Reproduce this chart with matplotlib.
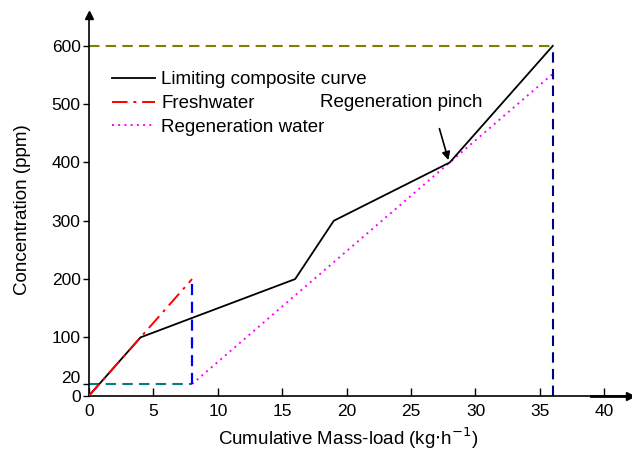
import numpy as np
import matplotlib.pyplot as plt
import matplotlib.transforms as mtransforms

plt.rcParams['font.family'] = ['Liberation Sans', 'DejaVu Sans']

# limiting composite curve
lcc_x = [0, 4, 16, 19, 28, 36]
lcc_y = [0, 100, 200, 300, 400, 600]

# freshwater supply line
fw_x = [0, 8]
fw_y = [0, 200]

# regeneration water line (touches the composite curve at the pinch)
rw_x = [8, 28, 36]
rw_y = [20, 400, 552]

pinch = (28, 400)
c_fresh = 20
c_max = 600
m_fresh = 8
m_total = 36

xticks = [0, 5, 10, 15, 20, 25, 30, 35, 40]
yticks = [0, 20, 100, 200, 300, 400, 500, 600]

fig = plt.figure(figsize=(6.32, 4.53), dpi=100)
ax = fig.add_axes([0.1408, 0.1265, 0.8562, 0.8405])

ax.plot(lcc_x, lcc_y, color='black', lw=1.3, label='Limiting composite curve', zorder=3)
ax.plot(fw_x, fw_y, color='red', lw=1.4, dashes=(8, 3, 1.5, 3), label='Freshwater', zorder=4)
ax.plot(rw_x, rw_y, color='magenta', lw=1.4, dashes=(1, 2.2), label='Regeneration water', zorder=2)

# guide lines
ax.plot([0, m_fresh], [c_fresh, c_fresh], color='#008080', lw=1.5, dashes=(5, 3), zorder=2)
ax.plot([m_fresh, m_fresh], [c_fresh, fw_y[-1]], color='#0000ff', lw=1.6, dashes=(5, 3), zorder=2)
ax.plot([0, m_total], [c_max, c_max], color='#808000', lw=1.5, dashes=(5, 3), zorder=2)
ax.plot([m_total, m_total], [0, c_max], color='#000080', lw=1.5, dashes=(5, 3), zorder=2)

ax.text(24.2, 502, 'Regeneration pinch', ha='center', va='center', fontsize=13.5)
ax.annotate('', xy=(pinch[0] - 0.1, pinch[1] + 4), xytext=(27.2, 458),
            arrowprops=dict(arrowstyle='-|>', color='black', lw=1.2,
                            mutation_scale=12, shrinkA=0, shrinkB=0))

ax.set_xlim(0, 42)
ax.set_ylim(0, 653)
ax.set_xticks(xticks)
ax.set_yticks(yticks)
ax.tick_params(axis='x', direction='in', length=6, width=1, labelsize=12.5, pad=6)
ax.tick_params(axis='y', direction='out', length=4, width=1, labelsize=12.5, pad=2)

# lift the "20" label a little so it clears the "0"
lbl = ax.get_yticklabels()[1]
lbl.set_transform(lbl.get_transform() + mtransforms.ScaledTranslation(0, 5 / 72, fig.dpi_scale_trans))

for s in ['top', 'right']:
    ax.spines[s].set_visible(False)
ax.spines['left'].set_linewidth(1.2)
ax.spines['bottom'].set_linewidth(1.2)

# axis arrows
ax.plot(0, 1, '^k', ms=6, transform=ax.transAxes, clip_on=False)
ax.plot(1, 0, '>k', ms=6, transform=ax.transAxes, clip_on=False)
ax.plot([39, 42], [0, 0], color='black', lw=2, clip_on=False)

ax.set_xlabel('Cumulative Mass-load (kg$\\cdot$h$^{-1}$)', fontsize=13.5)
ax.set_ylabel('Concentration (ppm)', fontsize=13.5)
ax.xaxis.set_label_coords(0.479, -0.078)
ax.yaxis.set_label_coords(-0.108, 0.488)

ax.legend(loc='upper left', bbox_to_anchor=(0.0425, 0.852), frameon=False,
          fontsize=13.5, handlelength=2.3, handletextpad=0.32, labelspacing=0.35,
          borderpad=0, borderaxespad=0)

fig.savefig('out.png', dpi=100)
